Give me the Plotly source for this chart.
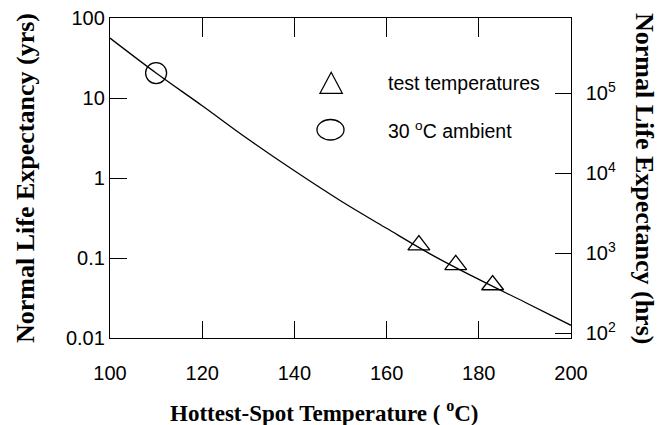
import math
import plotly.graph_objects as go

# ---- data ----
curve_temp = [100, 110, 120, 130, 140, 150, 160, 170, 180, 190, 200]
curve_life_yrs = [56, 20.5, 8.0, 3.05, 1.23, 0.52, 0.235, 0.108, 0.054, 0.028, 0.0144]

test_temp = [167, 175, 183]
test_life_yrs = [0.145, 0.082, 0.046]

ambient_temp = [110]
ambient_life_yrs = [20.5]

x_ticks = [100, 120, 140, 160, 180, 200]
y_ticks = [0.01, 0.1, 1, 10, 100]
y_ticktext = ["0.01", "0.1", "1", "10", "100"]
y2_ticks = [1e2, 1e3, 1e4, 1e5]
y2_ticktext = ["10<sup>2</sup>", "10<sup>3</sup>", "10<sup>4</sup>", "10<sup>5</sup>"]
HRS_PER_YR = 8760

# ---- layout geometry (pixels) ----
W, H = 667, 425
L, R, T, B = 110, 571, 18, 338
pw, ph = R - L, B - T


def px(x):
    return (x - L) / pw


def py(y):
    return (B - y) / ph


TICKFONT = dict(family="Liberation Sans, Arial, sans-serif", size=20, color="black")
XTITLEFONT = dict(family="Liberation Serif, Times New Roman, serif", size=23, color="black")
YTITLEFONT = dict(family="Liberation Serif, Times New Roman, serif", size=26, color="black")
PAD = "\u00a0\u2009"
TC = "black"

fig = go.Figure()

fig.add_trace(go.Scatter(
    x=curve_temp, y=curve_life_yrs, mode="lines", line=dict(color="black", width=1.3, shape="spline"),
    showlegend=False, hoverinfo="skip"))
fig.add_trace(go.Scatter(
    x=test_temp, y=test_life_yrs, mode="markers",
    marker=dict(symbol="triangle-up-open", size=19, color="black", line=dict(width=1.3)),
    showlegend=False))
fig.add_trace(go.Scatter(
    x=ambient_temp, y=ambient_life_yrs, mode="markers",
    marker=dict(symbol="circle-open", size=21, color="black", line=dict(width=1.3)),
    showlegend=False))
# invisible traces that activate the secondary axes (hours scale, inner tick axes)
fig.add_trace(go.Scatter(
    x=curve_temp, y=[v * HRS_PER_YR for v in curve_life_yrs], yaxis="y2", mode="lines",
    line=dict(width=0), opacity=0, showlegend=False, hoverinfo="skip"))
fig.add_trace(go.Scatter(
    x=curve_temp, y=curve_life_yrs, xaxis="x2", yaxis="y", mode="lines",
    line=dict(width=0), opacity=0, showlegend=False, hoverinfo="skip"))
fig.add_trace(go.Scatter(
    x=curve_temp, y=curve_life_yrs, xaxis="x3", yaxis="y", mode="lines",
    line=dict(width=0), opacity=0, showlegend=False, hoverinfo="skip"))

common = dict(showgrid=False, zeroline=False, automargin=False, showline=True,
              linecolor="black", linewidth=1.3)

fig.update_layout(
    width=W, height=H,
    margin=dict(l=L, r=W - R, t=T, b=H - B, pad=0, autoexpand=False),
    paper_bgcolor="white", plot_bgcolor="white",
    # labelled bottom axis (invisible outside ticks only push the labels down)
    xaxis=dict(range=[100, 200], tickvals=x_ticks, ticks="outside", ticklen=17, tickwidth=1,
               tickcolor="rgba(0,0,0,0)", tickfont=TICKFONT, **common),
    # unlabelled overlay axes carrying the inside ticks (bottom and top)
    xaxis2=dict(range=[100, 200], tickvals=x_ticks, overlaying="x", anchor="y", side="bottom",
                ticks="inside", ticklen=17, tickcolor=TC, tickwidth=1,
                showticklabels=False, **common),
    xaxis3=dict(range=[100, 200], tickvals=x_ticks, overlaying="x", anchor="y", side="top",
                ticks="inside", ticklen=19, tickcolor=TC, tickwidth=1,
                showticklabels=False, **common),
    yaxis=dict(type="log", range=[-2, 2], tickvals=y_ticks, ticktext=y_ticktext, ticks="inside",
               ticklen=17, tickcolor=TC, tickwidth=1, tickfont=TICKFONT, **common),
    yaxis2=dict(type="log", overlaying="y", side="right", anchor="x",
                range=[math.log10(0.01 * HRS_PER_YR), math.log10(100 * HRS_PER_YR)],
                tickvals=y2_ticks, ticktext=[PAD + t for t in y2_ticktext], ticks="inside", ticklen=16,
                tickcolor=TC, tickwidth=1, tickfont=TICKFONT, **common),
    showlegend=False,
)

annotations = [
    dict(text="<b>Hottest-Spot Temperature ( <sup>o</sup>C)</b>", x=px(324), y=py(411),
         xref="paper", yref="paper", showarrow=False, font=XTITLEFONT, xanchor="center", yanchor="middle"),
    dict(text="<b>Normal Life Expectancy (yrs)</b>", x=px(25), y=py(178), textangle=-90,
         xref="paper", yref="paper", showarrow=False, font=YTITLEFONT, xanchor="center", yanchor="middle"),
    dict(text="<b>Normal Life Expectancy (hrs)</b>", x=px(645), y=py(178), textangle=90,
         xref="paper", yref="paper", showarrow=False, font=YTITLEFONT, xanchor="center", yanchor="middle"),
    dict(text="test temperatures", x=px(386), y=py(83), xref="paper", yref="paper", showarrow=False,
         font=dict(family=TICKFONT["family"], size=19.5, color="black"), xanchor="left", yanchor="middle"),
    dict(text="30 <sup>o</sup>C ambient", x=px(386), y=py(130), xref="paper", yref="paper", showarrow=False,
         font=dict(family=TICKFONT["family"], size=19.5, color="black"), xanchor="left", yanchor="middle"),
]
fig.update_layout(annotations=annotations)

# legend symbols (decorations)
tri = "M {} {} L {} {} L {} {} Z".format(px(320), py(93.3), px(342.3), py(93.3), px(331.2), py(72.3))
fig.add_shape(type="path", path=tri, xref="paper", yref="paper", line=dict(color="black", width=1.3))
fig.add_shape(type="circle", x0=px(317), x1=px(344), y0=py(140), y1=py(119.5), xref="paper", yref="paper",
              line=dict(color="black", width=1.3))

fig.write_html("out.html")
